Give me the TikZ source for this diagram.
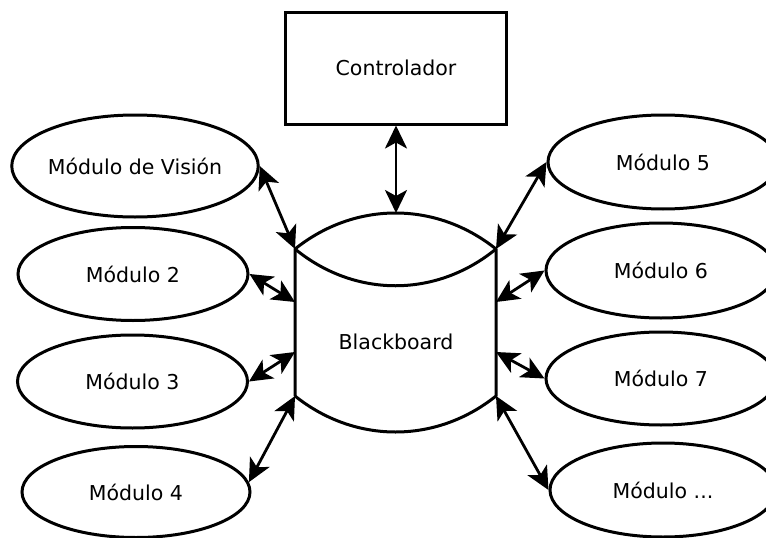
\documentclass[tikz,border=0pt]{standalone}
\usepackage{fontspec}
\setmainfont{DejaVu Sans}
\usepackage{tikz}
\usetikzlibrary{shapes.geometric, arrows.meta, positioning}
\newcommand{\lblfont}{\fontsize{20.5}{24}\selectfont}
\tikzstyle{modulo} = [ellipse, draw=black, line width=3pt, inner sep=0pt, minimum width=230pt, minimum height=93pt, font=\lblfont]
\tikzstyle{control} = [rectangle, draw=black, line width=3pt, minimum width=221pt, minimum height=112pt, font=\lblfont]
\tikzstyle{board} = [line width=3pt, line join=round]
\tikzset{arrow/.style={line width=2.8pt, >={Stealth[length=23pt, width=22pt, inset=6pt]}, <->}}

\begin{document}
\begin{tikzpicture}[x=1pt, y=-1pt]
\useasboundingbox (0,0) rectangle (766,538);

% Controller
\node (ctrl) [control] at (396,68) {Controlador};

% Blackboard outline
\coordinate (tl) at (295,249);
\coordinate (tr) at (496,249);
\coordinate (bl) at (295,396);
\coordinate (br) at (496,396);
\coordinate (top) at (396,213);
\coordinate (l1) at (295,302);
\coordinate (l2) at (295,352);
\coordinate (r1) at (496,302);
\coordinate (r2) at (496,352);
\draw [board] (bl) -- (tl) .. controls (355,201) and (436,201) .. (tr) -- (br) .. controls (436,444) and (355,444) .. (bl);
\draw [board] (tl) .. controls (355,298) and (436,298) .. (tr);
\node (bb) [font=\lblfont] at (396,342) {Blackboard};

% Left modules
\node (vision) [modulo, minimum width=246pt, minimum height=102pt] at (135,166) {Módulo de Visión};
\node (m2) [modulo] at (133,274) {Módulo 2};
\node (m3) [modulo] at (132.5,381.5) {Módulo 3};
\node (m4) [modulo, minimum width=228pt, minimum height=91pt] at (136,492) {Módulo 4};

% Right modules
\node (m5) [modulo, minimum height=94pt] at (663,162) {Módulo 5};
\node (m6) [modulo, minimum height=95pt] at (661,270.5) {Módulo 6};
\node (m7) [modulo] at (661,378.5) {Módulo 7};
\node (mdots) [modulo, minimum width=226pt, minimum height=94pt] at (663,490) {Módulo ...};

% Arrows
\draw [arrow] (ctrl) -- (top);
\draw [arrow] (vision.east) -- (tl);
\draw [arrow] (m2.east) -- (l1);
\draw [arrow] (m3.east) -- (l2);
\draw [arrow] (m4.5) -- (bl);
\draw [arrow] (m5.west) -- (tr);
\draw [arrow] (m6.west) -- (r1);
\draw [arrow] (m7.west) -- (r2);
\draw [arrow] (mdots.west) -- (br);

\end{tikzpicture}
\end{document}
